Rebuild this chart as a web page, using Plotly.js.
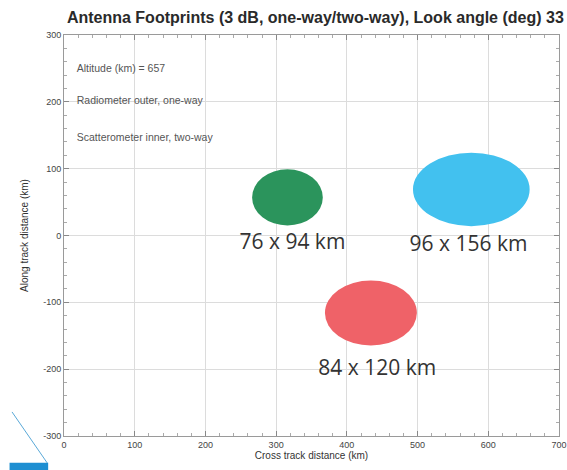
<!DOCTYPE html>
<html>
<head>
<meta charset="utf-8">
<script src="https://cdn.plot.ly/plotly-3.0.1.min.js"></script>
<style>html,body{margin:0;padding:0;background:#fff;}#chart{width:567px;height:470px;}</style>
</head>
<body>
<div id="chart"></div>
<script>
// Footprint data (km)
const footprintLabels = ["76 x 94 km", "96 x 156 km", "84 x 120 km"];
const centerX = [316, 576, 434];
const centerY = [57, 69, -116];
const widthKm = [100, 165, 130];
const heightKm = [84, 110, 97];
const labelX = [323, 572, 443];
const labelY = [-12, -16, -201];
const footprintColors = ["#2b945c", "#42c1ef", "#ef6268"];

const noteTexts = ["Altitude (km) = 657", "Radiometer outer, one-way", "Scatterometer inner, two-way"];
const noteX = [18, 18, 18];
const noteY = [248, 200, 146];

const xTicks = [0, 100, 200, 300, 400, 500, 600, 700];
const yTicks = [-300, -200, -100, 0, 100, 200, 300];

const shapes = centerX.map((cx, i) => ({
  type: "circle", xref: "x", yref: "y",
  x0: cx - widthKm[i] / 2, x1: cx + widthKm[i] / 2,
  y0: centerY[i] - heightKm[i] / 2, y1: centerY[i] + heightKm[i] / 2,
  fillcolor: footprintColors[i], line: {width: 0}, layer: "above"
}));
// page decoration in bottom-left corner
shapes.push({type: "line", xref: "paper", yref: "paper", x0: -0.105, y0: 0.06, x1: -0.034, y1: -0.067, line: {color: "#5aa9d8", width: 1}});
shapes.push({type: "rect", xref: "paper", yref: "paper", x0: -0.11, y0: -0.067, x1: -0.032, y1: -0.09, fillcolor: "#1e8fd2", line: {width: 0}});

const traces = [
  {
    type: "scatter", mode: "text", x: labelX, y: labelY, text: footprintLabels,
    textfont: {family: "Open Sans, Noto Sans, sans-serif", size: 21, color: "#333"},
    hoverinfo: "skip", showlegend: false, cliponaxis: false
  },
  {
    type: "scatter", mode: "text", x: noteX, y: noteY, text: noteTexts, textposition: "middle right",
    textfont: {family: "Liberation Sans, Arial, sans-serif", size: 10.5, color: "#555"},
    hoverinfo: "skip", showlegend: false
  }
];

const axisCommon = {
  showgrid: true, gridcolor: "#dcdcdc", gridwidth: 1,
  zeroline: false, showline: true, linecolor: "#9a9a9a", linewidth: 1, mirror: "ticks",
  ticks: "inside", ticklen: 5, tickcolor: "#888",
  tickfont: {family: "Liberation Sans, Arial, sans-serif", size: 9, color: "#444"}
};

const layout = {
  width: 567, height: 470,
  margin: {l: 64, r: 8, t: 35, b: 34},
  paper_bgcolor: "#fff", plot_bgcolor: "#fff",
  title: {
    text: "Antenna Footprints (3 dB, one-way/two-way), Look angle (deg) 33",
    font: {family: "Liberation Sans, Arial, sans-serif", size: 16, color: "#2a2a2a", weight: "bold"},
    x: 0.118, xanchor: "left", xref: "container", y: 0.962, yanchor: "middle"
  },
  xaxis: Object.assign({}, axisCommon, {
    range: [0, 700], tickvals: xTicks, ticktext: xTicks.map(String),
    minor: {ticks: "inside", ticklen: 3, tickcolor: "#aaa", dtick: 20, tick0: 0, showgrid: false},
    title: {text: "Cross track distance (km)", standoff: 2,
      font: {family: "Liberation Sans, Arial, sans-serif", size: 10, color: "#333"}}
  }),
  yaxis: Object.assign({}, axisCommon, {
    range: [-300, 300], tickvals: yTicks, ticktext: yTicks.map(String),
    minor: {ticks: "inside", ticklen: 3, tickcolor: "#aaa", dtick: 20, tick0: 0, showgrid: false},
    title: {text: "Along track distance (km)", standoff: 12,
      font: {family: "Liberation Sans, Arial, sans-serif", size: 10, color: "#333"}}
  }),
  shapes: shapes,
  showlegend: false
};

Plotly.newPlot("chart", traces, layout, {displayModeBar: false, staticPlot: true});
</script>
</body>
</html>
